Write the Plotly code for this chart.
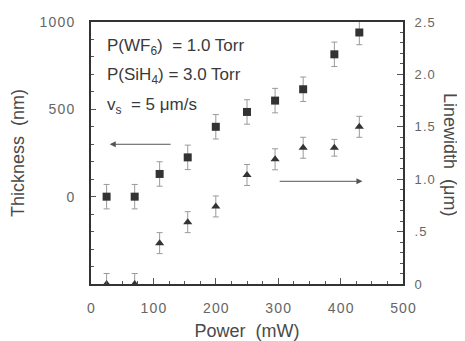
import plotly.graph_objects as go

power = [25, 70, 110, 155, 200, 250, 295, 340, 390, 430]
thickness = [0, 0, 130, 225, 400, 485, 550, 615, 815, 940]
thickness_err = [70, 70, 70, 70, 70, 70, 70, 70, 70, 70]
linewidth = [0, 0, 0.39, 0.59, 0.74, 1.04, 1.19, 1.30, 1.30, 1.50]
linewidth_err = [0.1, 0.1, 0.1, 0.1, 0.1, 0.1, 0.1, 0.1, 0.08, 0.1]

x_ticks = [0, 100, 200, 300, 400, 500]
left_ticks = [0, 500, 1000]
right_ticks = [0, 0.5, 1.0, 1.5, 2.0, 2.5]
right_ticktext = ["0", ".5", "1.0", "1.5", "2.0", "2.5"]

FONT = "Liberation Sans, Arial, sans-serif"
TXT = "#4a4a4a"
HS = "\u200a"

# page body has an 8px default margin; plot area spans x 91..403, y 22..284 in the window
OFF = 8
L, R, T, B = 91, 403, 22, 284
W, H = 465 - OFF, 341 - OFF


def spaced(s):
    return HS.join(s)


def px(xp):
    return (xp - L) / (R - L)


def py(yp):
    return 1 - (yp - T) / (B - T)


fig = go.Figure()
fig.add_trace(go.Scatter(
    x=power, y=thickness, mode="markers",
    marker=dict(symbol="square", size=8, color="#333333"),
    error_y=dict(type="data", array=thickness_err, color="#9a9a9a", thickness=1, width=3),
    yaxis="y", showlegend=False, cliponaxis=False))
fig.add_trace(go.Scatter(
    x=power, y=linewidth, mode="markers",
    marker=dict(symbol="triangle-up", size=8, color="#333333"),
    error_y=dict(type="data", array=linewidth_err, color="#9a9a9a", thickness=1, width=3),
    yaxis="y2", showlegend=False, cliponaxis=False))

fig.update_layout(
    width=W, height=H,
    margin=dict(l=L - OFF, r=W + OFF - R, t=T - OFF, b=H + OFF - B),
    paper_bgcolor="white", plot_bgcolor="white",
    font=dict(family=FONT, size=13, color=TXT),
    xaxis=dict(range=[0, 500], tickvals=x_ticks, ticktext=[spaced(str(v)) for v in x_ticks],
               showline=True, linecolor="#333", linewidth=2, automargin=False,
               mirror=True, ticks="inside", ticklen=6, tickcolor="#555", showgrid=False, zeroline=False,
               ticklabelstandoff=10,
               minor=dict(dtick=25, ticks="inside", ticklen=3, tickcolor="#555"),
               title=dict(text="Power  (mW)", standoff=12, font=dict(size=18, color=TXT)),
               tickfont=dict(size=14, color="#666")),
    yaxis=dict(range=[-500, 1000], tickvals=left_ticks, ticktext=[spaced(str(v)) for v in left_ticks],
               showline=True, linecolor="#333", linewidth=2, automargin=False,
               ticks="inside", ticklen=5, tickcolor="#555", showgrid=False, zeroline=False,
               ticklabelstandoff=12,
               minor=dict(dtick=100, ticks="inside", ticklen=3, tickcolor="#555"),
               title=dict(text="Thickness  (nm)", standoff=15, font=dict(size=18, color=TXT)),
               tickfont=dict(size=14, color="#666")),
    yaxis2=dict(range=[0, 2.5], overlaying="y", side="right", tickvals=right_ticks,
                ticktext=[spaced(t) for t in right_ticktext], showline=True, linecolor="#333", linewidth=2,
                automargin=False,
                ticks="inside", ticklen=6, tickcolor="#555", showgrid=False, zeroline=False,
                ticklabelstandoff=7,
                minor=dict(dtick=0.1, ticks="inside", ticklen=3, tickcolor="#555"),
                tickfont=dict(size=13, color="#666")),
)

annots = [
    dict(x=105, y=47, text="P(WF<sub>6</sub>)  = 1.0 Torr"),
    dict(x=105, y=76, text="P(SiH<sub>4</sub>) = 3.0 Torr"),
    dict(x=105, y=106, text="v<sub>s</sub>  = 5 \u03bcm/s"),
]
for a in annots:
    fig.add_annotation(xref="paper", yref="paper", x=px(a["x"]), y=py(a["y"]),
                       text=a["text"], showarrow=False, xanchor="left", yanchor="middle",
                       font=dict(size=17, color="#3a3a3a", family=FONT))

# arrows pointing to respective axes
fig.add_annotation(xref="x", yref="y", x=30, y=300, ax=130, ay=300, axref="x", ayref="y",
                   showarrow=True, arrowhead=2, arrowsize=1.2, arrowwidth=1, arrowcolor="#555", text="")
fig.add_annotation(xref="x", yref="y2", x=435, y=0.98, ax=300, ay=0.98, axref="x", ayref="y2",
                   showarrow=True, arrowhead=2, arrowsize=1.2, arrowwidth=1, arrowcolor="#555", text="")

# right axis title (reads top to bottom)
fig.add_annotation(xref="paper", yref="paper", x=px(450), y=py(154),
                   text="Linewidth  (\u03bcm)", textangle=90, showarrow=False,
                   xanchor="center", yanchor="middle", font=dict(size=18, color=TXT, family=FONT))

fig.write_html("out.html")
